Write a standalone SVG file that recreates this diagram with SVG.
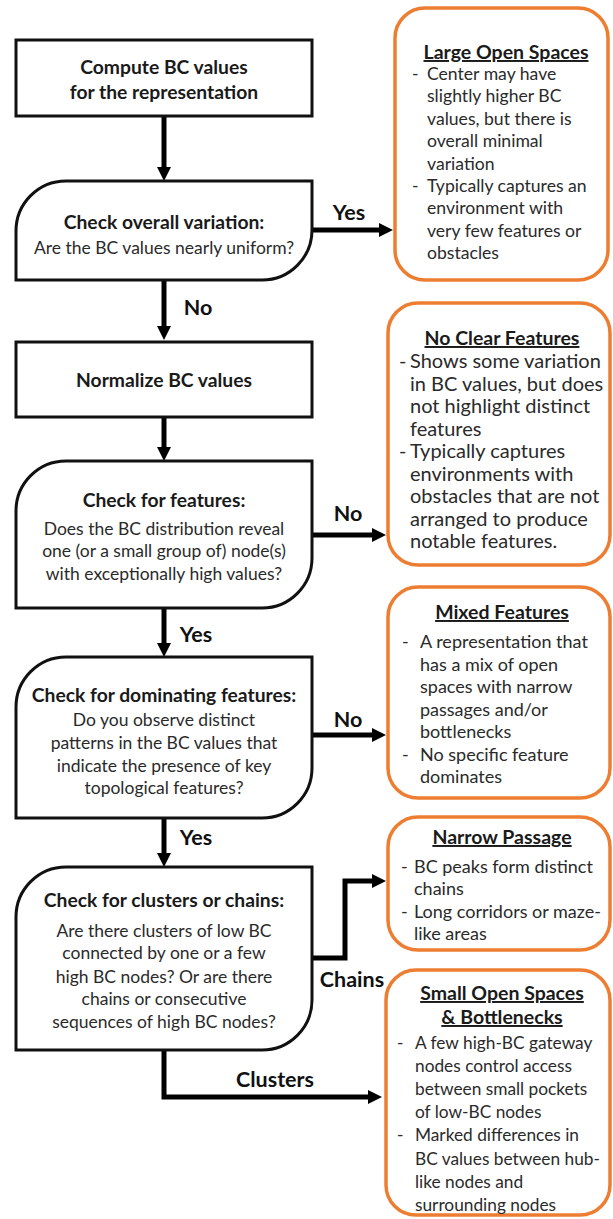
<svg xmlns="http://www.w3.org/2000/svg" width="613" height="1219" viewBox="0 0 613 1219">
<style>
  .box { fill: #ffffff; stroke: #111111; stroke-width: 3; }
  .res { fill: #ffffff; stroke: #ED7D31; stroke-width: 3.5; }
  .h { font-family: Lato, "Liberation Sans", sans-serif; font-weight: bold; font-size: 19.3px; fill: #1a1a1a; text-anchor: middle; }
  .q { font-family: Lato, "Liberation Sans", sans-serif; font-size: 17.5px; fill: #2a2a2a; text-anchor: middle; }
  .lbl { font-family: Lato, "Liberation Sans", sans-serif; font-weight: bold; font-size: 21.5px; fill: #111111; text-anchor: middle; }
  .t { font-family: Lato, "Liberation Sans", sans-serif; font-weight: bold; font-size: 19.5px; fill: #1a1a1a; text-anchor: middle; text-decoration: underline; }
  .b { font-family: Lato, "Liberation Sans", sans-serif; font-size: 17.6px; fill: #2a2a2a; }
  .con { fill: none; stroke: #000000; stroke-width: 5; }
</style>
<defs>
  <marker id="ah" viewBox="0 0 14 14" markerWidth="14" markerHeight="14" refX="1" refY="7" orient="auto" markerUnits="userSpaceOnUse">
    <path d="M0,0 L14,7 L0,14 z" fill="#000000"/>
  </marker>
</defs>
<rect width="613" height="1219" fill="#ffffff"/>

<g id="connectors">
  <line class="con" x1="164" y1="116" x2="164" y2="168" marker-end="url(#ah)"/>
  <line class="con" x1="312" y1="230" x2="380" y2="230" marker-end="url(#ah)"/>
  <line class="con" x1="164" y1="280" x2="164" y2="327" marker-end="url(#ah)"/>
  <line class="con" x1="164" y1="417" x2="164" y2="448" marker-end="url(#ah)"/>
  <line class="con" x1="312" y1="535" x2="373" y2="535" marker-end="url(#ah)"/>
  <line class="con" x1="164" y1="608" x2="164" y2="644" marker-end="url(#ah)"/>
  <line class="con" x1="312" y1="735" x2="373" y2="735" marker-end="url(#ah)"/>
  <line class="con" x1="164" y1="818" x2="164" y2="854" marker-end="url(#ah)"/>
  <polyline class="con" points="310,958 345,958 345,881 373,881" marker-end="url(#ah)"/>
  <polyline class="con" points="164,1050 164,1097 369,1097" marker-end="url(#ah)"/>
  <text class="lbl" x="349" y="220">Yes</text>
  <text class="lbl" x="198" y="315">No</text>
  <text class="lbl" x="348" y="521">No</text>
  <text class="lbl" x="196" y="642">Yes</text>
  <text class="lbl" x="348" y="727">No</text>
  <text class="lbl" x="196" y="845">Yes</text>
  <text class="lbl" x="352" y="987">Chains</text>
  <text class="lbl" x="275" y="1087">Clusters</text>
</g>

<g id="compute">
  <rect class="box" x="16" y="40" width="296" height="76"/>
  <text class="h" x="164" y="74">Compute BC values</text>
  <text class="h" x="164" y="99">for the representation</text>
</g>

<g id="check-variation">
  <path class="box" d="M16,280 L16,231 A50,50 0 0 1 66,181 L312,181 L312,230 A50,50 0 0 1 262,280 Z"/>
  <text class="h" x="164" y="229">Check overall variation:</text>
  <text class="q" x="164" y="254">Are the BC values nearly uniform?</text>
</g>

<g id="normalize">
  <rect class="box" x="16" y="342" width="296" height="75"/>
  <text class="h" x="164" y="387">Normalize BC values</text>
</g>

<g id="check-features">
  <path class="box" d="M16,608 L16,511 A50,50 0 0 1 66,461 L312,461 L312,558 A50,50 0 0 1 262,608 Z"/>
  <text class="h" x="164" y="507">Check for features:</text>
  <text class="q" x="164" y="535">Does the BC distribution reveal</text>
  <text class="q" x="164" y="557">one (or a small group of) node(s)</text>
  <text class="q" x="164" y="580">with exceptionally high values?</text>
</g>

<g id="check-dominating">
  <path class="box" d="M16,818 L16,707 A50,50 0 0 1 66,657 L312,657 L312,768 A50,50 0 0 1 262,818 Z"/>
  <text class="h" x="164" y="702">Check for dominating features:</text>
  <text class="q" x="164" y="726">Do you observe distinct</text>
  <text class="q" x="164" y="749">patterns in the BC values that</text>
  <text class="q" x="164" y="772">indicate the presence of key</text>
  <text class="q" x="164" y="794">topological features?</text>
</g>

<g id="check-clusters">
  <path class="box" d="M16,1050 L16,917 A50,50 0 0 1 66,867 L312,867 L312,1000 A50,50 0 0 1 262,1050 Z"/>
  <text class="h" x="164" y="907">Check for clusters or chains:</text>
  <text class="q" x="164" y="937">Are there clusters of low BC</text>
  <text class="q" x="164" y="959">connected by one or a few</text>
  <text class="q" x="164" y="983">high BC nodes? Or are there</text>
  <text class="q" x="164" y="1005">chains or consecutive</text>
  <text class="q" x="164" y="1028">sequences of high BC nodes?</text>
</g>

<g id="large-open-spaces">
  <rect class="res" x="395" y="8" width="213" height="272" rx="30"/>
  <text class="t" x="506" y="59">Large Open Spaces</text>
  <text class="b" x="412" y="80">-</text>
  <text class="b" x="427" y="80">Center may have</text>
  <text class="b" x="427" y="102.4">slightly higher BC</text>
  <text class="b" x="427" y="124.8">values, but there is</text>
  <text class="b" x="427" y="147.2">overall minimal</text>
  <text class="b" x="427" y="169.6">variation</text>
  <text class="b" x="412" y="192">-</text>
  <text class="b" x="427" y="192">Typically captures an</text>
  <text class="b" x="427" y="214.4">environment with</text>
  <text class="b" x="427" y="236.8">very few features or</text>
  <text class="b" x="427" y="259.2">obstacles</text>
</g>

<g id="no-clear-features">
  <rect class="res" x="388" y="303" width="222" height="262" rx="30"/>
  <text class="t" x="502" y="345">No Clear Features</text>
  <text class="b" x="399" y="368" style="font-size:20px">-</text>
  <text class="b" x="410" y="368" style="font-size:20px">Shows some variation</text>
  <text class="b" x="410" y="390.5" style="font-size:20px">in BC values, but does</text>
  <text class="b" x="410" y="413" style="font-size:20px">not highlight distinct</text>
  <text class="b" x="410" y="435.5" style="font-size:20px">features</text>
  <text class="b" x="399" y="458" style="font-size:20px">-</text>
  <text class="b" x="410" y="458" style="font-size:20px">Typically captures</text>
  <text class="b" x="410" y="480.5" style="font-size:20px">environments with</text>
  <text class="b" x="410" y="503" style="font-size:20px">obstacles that are not</text>
  <text class="b" x="410" y="525.5" style="font-size:20px">arranged to produce</text>
  <text class="b" x="410" y="548" style="font-size:20px">notable features.</text>
</g>

<g id="mixed-features">
  <rect class="res" x="388" y="587" width="222" height="211" rx="30"/>
  <text class="t" x="502" y="619">Mixed Features</text>
  <text class="b" x="402" y="648" style="font-size:18px">-</text>
  <text class="b" x="420" y="648" style="font-size:18px">A representation that</text>
  <text class="b" x="420" y="670.5" style="font-size:18px">has a mix of open</text>
  <text class="b" x="420" y="693" style="font-size:18px">spaces with narrow</text>
  <text class="b" x="420" y="715.5" style="font-size:18px">passages and/or</text>
  <text class="b" x="420" y="738" style="font-size:18px">bottlenecks</text>
  <text class="b" x="402" y="760.5" style="font-size:18px">-</text>
  <text class="b" x="420" y="760.5" style="font-size:18px">No specific feature</text>
  <text class="b" x="420" y="783" style="font-size:18px">dominates</text>
</g>

<g id="narrow-passage">
  <rect class="res" x="388" y="817" width="222" height="133" rx="30"/>
  <text class="t" x="502" y="844">Narrow Passage</text>
  <text class="b" x="401" y="873" style="font-size:18px">-</text>
  <text class="b" x="414" y="873" style="font-size:18px">BC peaks form distinct</text>
  <text class="b" x="414" y="895" style="font-size:18px">chains</text>
  <text class="b" x="401" y="918" style="font-size:18px">-</text>
  <text class="b" x="414" y="918" style="font-size:18px">Long corridors or maze-</text>
  <text class="b" x="414" y="940" style="font-size:18px">like areas</text>
</g>

<g id="small-open-spaces">
  <rect class="res" x="386" y="970" width="224" height="245" rx="30"/>
  <text class="t" x="502" y="1000">Small Open Spaces</text>
  <text class="t" x="502" y="1024">&amp; Bottlenecks</text>
  <text class="b" x="397" y="1049" style="font-size:17.3px">-</text>
  <text class="b" x="415" y="1049" style="font-size:17.3px">A few high-BC gateway</text>
  <text class="b" x="415" y="1072" style="font-size:17.3px">nodes control access</text>
  <text class="b" x="415" y="1095" style="font-size:17.3px">between small pockets</text>
  <text class="b" x="415" y="1118" style="font-size:17.3px">of low-BC nodes</text>
  <text class="b" x="397" y="1141" style="font-size:17.3px">-</text>
  <text class="b" x="415" y="1141" style="font-size:17.3px">Marked differences in</text>
  <text class="b" x="415" y="1165" style="font-size:17.3px">BC values between hub-</text>
  <text class="b" x="415" y="1188" style="font-size:17.3px">like nodes and</text>
  <text class="b" x="415" y="1211" style="font-size:17.3px">surrounding nodes</text>
</g>
</svg>
